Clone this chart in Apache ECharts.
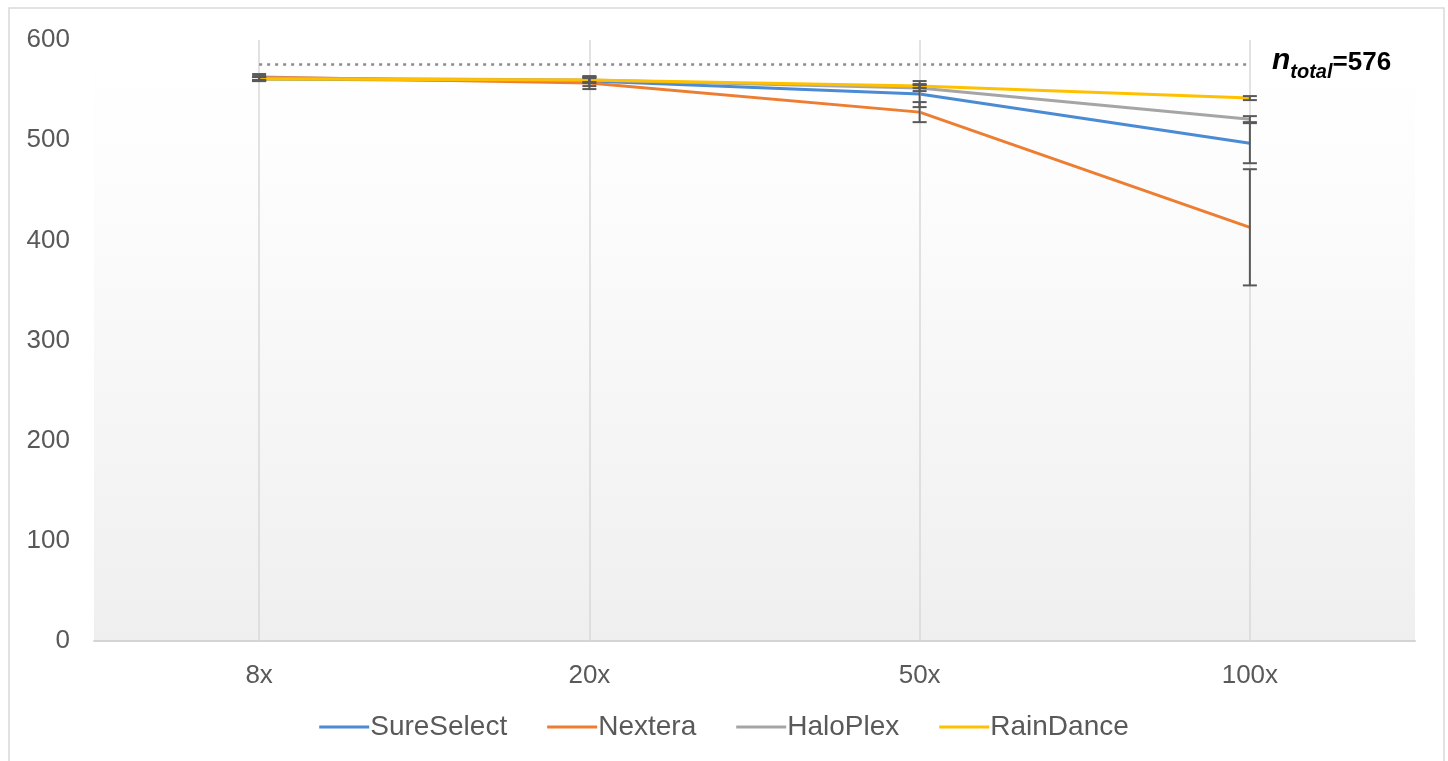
<!DOCTYPE html>
<html>
<head>
<meta charset="utf-8">
<script src="https://cdn.jsdelivr.net/npm/echarts@6/dist/echarts.min.js"></script>
<style>
  html, body { margin: 0; padding: 0; background: #ffffff; }
  #chart { width: 1448px; height: 761px; }
</style>
</head>
<body>
<div id="chart"></div>
<script>
// Sequencing depth levels on the x axis
const depths = ['8x', '20x', '50x', '100x'];

// Mean counts per enrichment kit
const sureSelect = [561, 559, 546, 497];
const nextera    = [563, 557, 528, 413];
const haloPlex   = [562, 560, 552, 521];
const rainDance  = [561, 560, 554, 542];

// Error bar half-widths (±) per kit
const sureSelectErr = [2, 5, 13, 20];
const nexteraErr    = [3, 6, 10, 58];
const haloPlexErr   = [2, 3, 3, 3];
const rainDanceErr  = [2, 2, 2, 2];

// Total reference count
const nTotal = 576;

const yTicks = [0, 100, 200, 300, 400, 500, 600];

const kits = [
  { name: 'SureSelect', values: sureSelect, err: sureSelectErr, color: '#4a8bd4' },
  { name: 'Nextera',    values: nextera,    err: nexteraErr,    color: '#ed7d31' },
  { name: 'HaloPlex',   values: haloPlex,   err: haloPlexErr,   color: '#a5a5a5' },
  { name: 'RainDance',  values: rainDance,  err: rainDanceErr,  color: '#ffc000' }
];

const textColor = '#595959';
const fontFamily = '"Liberation Sans", Arial, sans-serif';

function errorBarSeries(kit) {
  const data = kit.values.map((v, i) => [i, v - kit.err[i], v + kit.err[i]]);
  return {
    type: 'custom',
    name: kit.name + ' error',
    z: 5,
    silent: true,
    data: data,
    renderItem: function (params, api) {
      const x = api.value(0);
      const lo = api.coord([x, api.value(1)]);
      const hi = api.coord([x, api.value(2)]);
      const half = 7;
      const style = { stroke: '#595959', lineWidth: 2 };
      return {
        type: 'group',
        children: [
          { type: 'line', shape: { x1: lo[0], y1: lo[1], x2: hi[0], y2: hi[1] }, style: style },
          { type: 'line', shape: { x1: hi[0] - half, y1: hi[1], x2: hi[0] + half, y2: hi[1] }, style: style },
          { type: 'line', shape: { x1: lo[0] - half, y1: lo[1], x2: lo[0] + half, y2: lo[1] }, style: style }
        ]
      };
    }
  };
}

const lineSeries = kits.map((kit, idx) => {
  const s = {
    type: 'line',
    name: kit.name,
    data: kit.values,
    showSymbol: false,
    symbol: 'none',
    z: 3 + idx * 0.1,
    lineStyle: { color: kit.color, width: 3 },
    itemStyle: { color: kit.color }
  };
  if (idx === 0) {
    s.markLine = {
      silent: true,
      symbol: 'none',
      label: { show: false },
      lineStyle: { color: '#8c8c8c', type: [3, 5], width: 2.5 },
      data: [[{ coord: [0, nTotal] }, { coord: [depths.length - 1, nTotal] }]]
    };
  }
  return s;
});

// Vertical gridlines through each depth category
const gridLineSeries = {
  type: 'line',
  name: 'gridlines',
  data: [],
  silent: true,
  z: 1,
  markLine: {
    silent: true,
    symbol: 'none',
    label: { show: false },
    lineStyle: { color: '#d9d9d9', type: 'solid', width: 1.5 },
    data: depths.map(d => ({ xAxis: d }))
  }
};

const chart = echarts.init(document.getElementById('chart'), null, { renderer: 'canvas' });

chart.setOption({
  animation: false,
  backgroundColor: '#ffffff',
  textStyle: { fontFamily: fontFamily },
  grid: {
    left: 94, right: 33, top: 40, bottom: 120,
    show: true,
    borderWidth: 0,
    backgroundColor: {
      type: 'linear', x: 0, y: 0, x2: 0, y2: 1,
      colorStops: [
        { offset: 0, color: '#ffffff' },
        { offset: 0.2, color: '#fdfdfd' },
        { offset: 1, color: '#efefef' }
      ]
    }
  },
  legend: {
    bottom: 15,
    left: 'center',
    itemWidth: 50,
    itemHeight: 3,
    itemGap: 40,
    icon: 'rect',
    data: kits.map(k => ({ name: k.name, itemStyle: { color: k.color } })),
    textStyle: { color: textColor, fontSize: 28, fontFamily: fontFamily, padding: [0, 0, 0, -4] }
  },
  xAxis: {
    type: 'category',
    data: depths,
    boundaryGap: true,
    axisLine: { show: true, lineStyle: { color: '#d4d4d4', width: 2 } },
    axisTick: { show: false },
    axisLabel: { color: textColor, fontSize: 26, margin: 22, fontFamily: fontFamily },
    splitLine: { show: false }
  },
  yAxis: {
    type: 'value',
    min: yTicks[0],
    max: yTicks[yTicks.length - 1],
    interval: 100,
    axisLine: { show: false },
    axisTick: { show: false },
    splitLine: { show: false },
    axisLabel: { color: textColor, fontSize: 26, margin: 24, fontFamily: fontFamily }
  },
  graphic: [
    {
      type: 'rect',
      silent: true,
      shape: { x: 9, y: 8, width: 1435, height: 800 },
      style: { fill: 'none', stroke: '#d9d9d9', lineWidth: 1.5 },
      z: 100
    },
    {
      type: 'text',
      silent: true,
      left: 1272,
      top: 46,
      style: {
        text: '{n|n}{sub|total}{eq|=' + nTotal + '}',
        fill: '#000000',
        rich: {
          n: { fontSize: 30, fontWeight: 'bold', fontStyle: 'italic', fill: '#000', fontFamily: fontFamily, verticalAlign: 'bottom' },
          sub: { fontSize: 20, fontWeight: 'bold', fontStyle: 'italic', fill: '#000', fontFamily: fontFamily, verticalAlign: 'bottom', padding: [0, 0, -6, 0] },
          eq: { fontSize: 26, fontWeight: 'bold', fill: '#000', fontFamily: fontFamily, verticalAlign: 'bottom' }
        }
      }
    }
  ],
  series: [gridLineSeries].concat(lineSeries, kits.map(errorBarSeries))
});
</script>
</body>
</html>
